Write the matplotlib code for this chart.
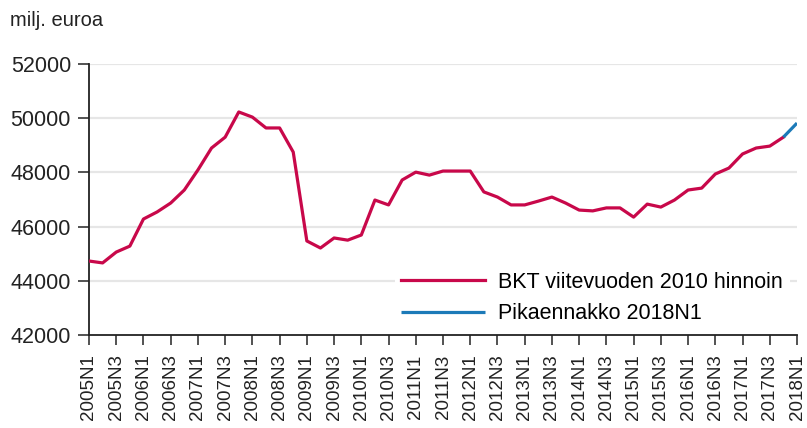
import matplotlib
matplotlib.use("Agg")
import matplotlib.pyplot as plt

plt.rcParams['font.family'] = ['Liberation Sans', 'DejaVu Sans']

# quarterly GDP, million euros, 2005N1 .. 2017N4
years = list(range(2005, 2018))
gdp = [44730, 44660, 45060, 45280, 46280, 46540, 46870, 47350,
       48090, 48900, 49300, 50230, 50040, 49640, 49640, 48750,
       45470, 45210, 45580, 45500, 45690, 46980, 46800, 47720,
       48010, 47900, 48050, 48050, 48050, 47280, 47090, 46800,
       46800, 46940, 47090, 46870, 46610, 46580, 46690, 46690,
       46350, 46830, 46720, 46980, 47350, 47420, 47940, 48160,
       48680, 48900, 48970, 49300]
# flash estimate 2018N1 (joined to last quarter)
flash = [49300, 49820]

quarters = [f"{y}N{q}" for y in years for q in range(1, 5)] + ["2018N1"]
tick_labels = quarters[::2]

red = '#c8084a'
blue = '#1c7ab8'

fig = plt.figure(figsize=(8.07, 4.28), dpi=100)
ax = fig.add_axes([89 / 807, 1 - 335 / 428, 708 / 807, 271 / 428])

x_gdp = list(range(len(gdp)))
x_flash = [len(gdp) - 1, len(gdp)]
ax.plot(x_gdp, gdp, color=red, lw=2.3, label='BKT viitevuoden 2010 hinnoin',
        solid_joinstyle='round', zorder=3)
ax.plot(x_flash, flash, color=blue, lw=2.3, label='Pikaennakko 2018N1',
        solid_capstyle='butt', zorder=3)

ax.set_xlim(0, len(quarters) - 1)
ax.set_ylim(42000, 52000)
ax.set_yticks(range(42000, 52001, 2000))
ax.set_yticklabels([str(v) for v in range(42000, 52001, 2000)], fontsize=15.5, color='#222222')
ax.set_xticks(range(0, len(quarters), 2))
ax.set_xticklabels(tick_labels, rotation=90, fontsize=13.5, color='#222222')

for v in range(44000, 52001, 2000):
    ax.axhline(v, color='#e6e6e6', lw=1.6, zorder=1)

for s in ['top', 'right']:
    ax.spines[s].set_visible(False)
for s in ['left', 'bottom']:
    ax.spines[s].set_linewidth(1.3)
    ax.spines[s].set_color('#222222')
ax.tick_params(axis='y', length=8, width=1.3, color='#444444', pad=5)
ax.tick_params(axis='x', length=7, width=1.3, color='#444444', pad=7)

fig.text(10 / 807, 1 - 20 / 428, 'milj. euroa', fontsize=14.5, color='#222222', va='center')

leg = ax.legend(loc='upper left', bbox_to_anchor=(0.417, 0.297), fontsize=15.5,
                frameon=True, facecolor='white', edgecolor='none', framealpha=1,
                handlelength=3.9, handletextpad=0.6, labelspacing=0.5,
                borderpad=0.3, fancybox=False)
leg.set_zorder(2)

fig.savefig('out.png', dpi=100)
